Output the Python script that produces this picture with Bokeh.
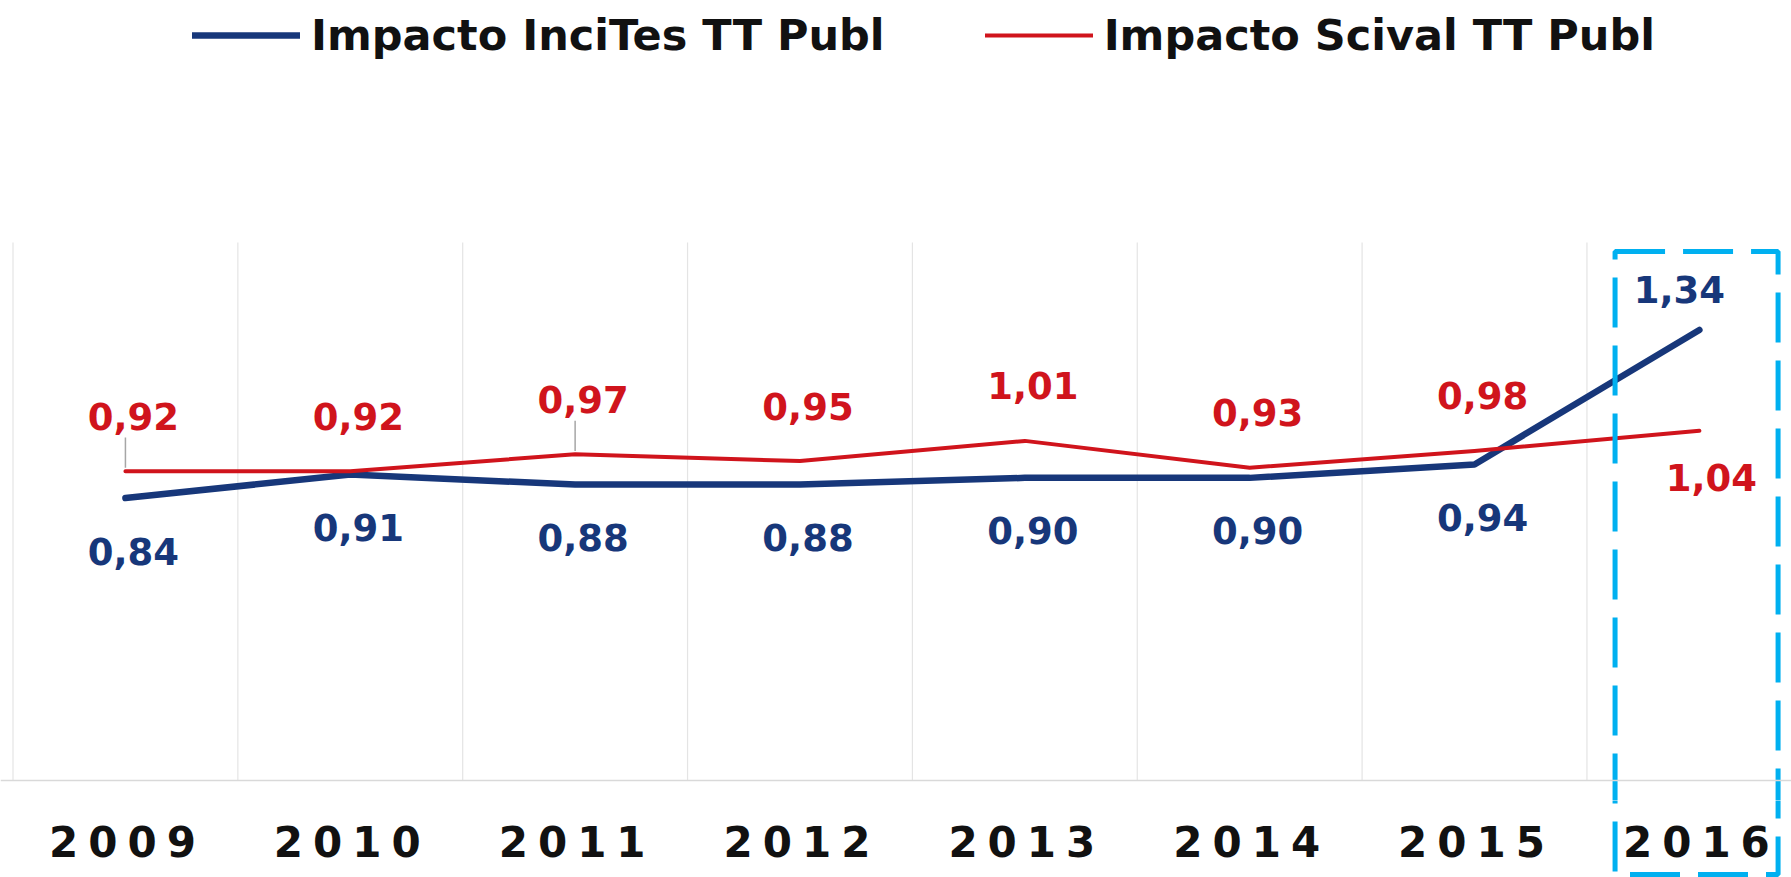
from bokeh.plotting import figure
from bokeh.layouts import column
from bokeh.models import (ColumnDataSource, Range1d, FixedTicker, Legend, LegendItem)
from bokeh.core.properties import value
from bokeh.embed import file_html
from bokeh.resources import INLINE

# ---- data ----
years = ["2009", "2010", "2011", "2012", "2013", "2014", "2015", "2016"]
incites = [0.84, 0.91, 0.88, 0.88, 0.90, 0.90, 0.94, 1.34]
scival = [0.92, 0.92, 0.97, 0.95, 1.01, 0.93, 0.98, 1.04]
incites_label_pos = ["below", "below", "below", "below", "below", "below", "below", "above_left"]
scival_label_pos = ["above", "above", "above", "above", "above", "above", "above", "below_right"]
leader_years = ["2009", "2011"]
highlight_year = "2016"
series_names = ["Impacto InciTes TT Publ", "Impacto Scival TT Publ"]
y_max = 1.6

# ---- styles ----
BLUE = "#17377A"
RED = "#D0141C"
HILITE = "#00B0F0"
FONT = "DejaVu Sans"
offsets = {"above": (8, -55), "below": (8, 53), "above_left": (-20, -40), "below_right": (12, 47)}

xs = list(range(len(years)))
W = 1791
H_MAIN, H_AX = 800, 77
X0, X1 = -0.5556, 7.4097
Y_TOP, Y_SPLIT, Y_BOT = 2.3197, -0.0595, -0.2885

def base_fig(h, y0, y1):
    f = figure(width=W, height=h, output_backend="svg", toolbar_location=None,
               x_range=Range1d(X0, X1), y_range=Range1d(y0, y1),
               min_border=0, min_border_left=0, min_border_right=0,
               min_border_top=0, min_border_bottom=0)
    f.outline_line_color = None
    f.background_fill_color = "white"
    f.border_fill_color = "white"
    f.yaxis.visible = False
    f.ygrid.visible = False
    f.xgrid.visible = False
    return f

p = base_fig(H_MAIN, Y_SPLIT, Y_TOP)

# x axis line at y=0
ax = p.xaxis[0]
ax.fixed_location = 0
ax.ticker = FixedTicker(ticks=[])
ax.major_tick_line_color = None
ax.minor_tick_line_color = None
ax.axis_line_color = "#D9D9D9"
ax.axis_line_width = 1.5

# vertical separators between categories
bounds = [i - 0.5 for i in xs]
p.segment(x0=bounds, y0=[0] * len(bounds), x1=bounds, y1=[y_max] * len(bounds),
          line_color="#E4E4E4", line_width=1.2)

# leader lines
for yr in leader_years:
    i = years.index(yr)
    p.segment(x0=[i], y0=[scival[i] + 0.01], x1=[i], y1=[scival[i] + 0.1],
              line_color="#A6A6A6", line_width=1.5)

r_blue = p.line(xs, incites, line_color=BLUE, line_width=6.5, line_cap="round", line_join="round")
r_red = p.line(xs, scival, line_color=RED, line_width=4, line_cap="round", line_join="round")

def label_source(vals, pos):
    return ColumnDataSource(dict(
        x=xs, y=vals,
        text=[f"{v:.2f}".replace(".", ",") for v in vals],
        dx=[offsets[k][0] for k in pos],
        dy=[offsets[k][1] for k in pos],
    ))

for vals, pos, col in [(incites, incites_label_pos, BLUE), (scival, scival_label_pos, RED)]:
    p.text(x="x", y="y", text="text", x_offset="dx", y_offset="dy",
           source=label_source(vals, pos), text_color=col,
           text_font=value(FONT), text_font_style="bold", text_font_size="37px",
           text_align="center", text_baseline="middle")

# highlight box around last category (split over both panels)
hi = years.index(highlight_year)
box = dict(left=[hi - 0.375], right=[hi + 0.35], bottom=[-0.2796], top=[1.573])
box_style = dict(fill_color=None, line_color=HILITE, line_width=5, line_dash="50 18")
p.quad(**box, **box_style)

legend = Legend(items=[LegendItem(label=series_names[0], renderers=[r_blue]),
                       LegendItem(label=series_names[1], renderers=[r_red])],
                orientation="horizontal", location=(192, 740))
legend.glyph_width = 108
legend.glyph_height = 50
legend.label_height = 50
legend.label_standoff = 11
legend.spacing = 100
legend.padding = 0
legend.margin = 0
legend.border_line_color = None
legend.background_fill_alpha = 0
legend.label_text_font = FONT
legend.label_text_font_style = "bold"
legend.label_text_font_size = "43px"
legend.label_text_color = "#111111"
p.add_layout(legend, "center")

# category labels panel (letter-spaced)
q = base_fig(H_AX, Y_BOT, Y_SPLIT)
q.xaxis.visible = False
q.styles = {"letter-spacing": "10px"}
q.text(x=xs, y=[-0.1814] * len(xs), text=years, text_color="#111111",
       text_font=value(FONT), text_font_style="bold", text_font_size="42px",
       text_align="center", text_baseline="middle", x_offset=-18)
q.quad(**box, **box_style)

layout = column(p, q, spacing=0)
open("out.html", "w").write(file_html(layout, INLINE))
